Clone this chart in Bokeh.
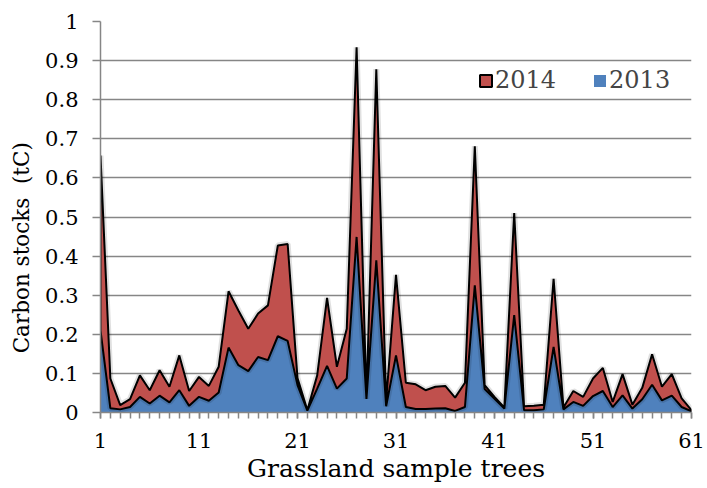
import numpy as np
from bokeh.plotting import figure
from bokeh.models import FixedTicker, Legend, LegendItem, Range1d
from bokeh.embed import file_html
from bokeh.resources import INLINE

samples = list(range(1, 62))
carbon_2013 = [0.210, 0.011, 0.008, 0.014, 0.040, 0.023, 0.043, 0.026, 0.057, 0.017,
               0.040, 0.030, 0.051, 0.166, 0.121, 0.106, 0.142, 0.134, 0.195, 0.183,
               0.070, 0.005, 0.061, 0.119, 0.061, 0.087, 0.449, 0.035, 0.389, 0.016,
               0.146, 0.014, 0.009, 0.009, 0.010, 0.011, 0.004, 0.014, 0.325, 0.060,
               0.035, 0.010, 0.249, 0.006, 0.006, 0.008, 0.168, 0.008, 0.027, 0.017,
               0.042, 0.055, 0.014, 0.044, 0.010, 0.034, 0.071, 0.031, 0.043, 0.014,
               0.003]
carbon_2014 = [0.447, 0.076, 0.011, 0.020, 0.055, 0.034, 0.065, 0.040, 0.089, 0.038,
               0.051, 0.038, 0.066, 0.144, 0.140, 0.108, 0.111, 0.140, 0.232, 0.248,
               0.018, 0.001, 0.034, 0.174, 0.056, 0.127, 0.485, 0.001, 0.489, 0.014,
               0.206, 0.062, 0.063, 0.048, 0.056, 0.057, 0.034, 0.062, 0.356, 0.010,
               0.005, 0.003, 0.261, 0.010, 0.011, 0.012, 0.174, 0.005, 0.028, 0.023,
               0.045, 0.059, 0.013, 0.054, 0.010, 0.029, 0.078, 0.035, 0.055, 0.022,
               0.003]
y_ticks = [0, 0.1, 0.2, 0.3, 0.4, 0.5, 0.6, 0.7, 0.8, 0.9, 1]
y_tick_labels = ["0", "0.1", "0.2", "0.3", "0.4", "0.5", "0.6", "0.7", "0.8", "0.9", "1"]
x_ticks = [1, 11, 21, 31, 41, 51, 61]

RED = "#C0504D"
BLUE = "#4F81BD"
GRID = "#868686"
FONT = "DejaVu Serif"
NB = "\u00a0"

p = figure(width=707, height=488, output_backend="svg", toolbar_location=None,
           x_range=Range1d(1, 61), y_range=Range1d(0, 1),
           min_border_left=100, min_border_right=16, min_border_top=21, min_border_bottom=76)
p.outline_line_color = None
p.background_fill_color = "white"
p.border_fill_color = "white"

# stacked areas
total = (np.array(carbon_2013) + np.array(carbon_2014)).tolist()
blue = p.varea(x=samples, y1=0, y2=carbon_2013, fill_color=BLUE)
px = samples + samples[::-1]
py = total + carbon_2013[::-1]
p.patch(px, py, fill_color=None, line_color="#000000", line_alpha=0.12, line_width=6)
red = p.patch(px, py, fill_color=RED, line_color="black", line_width=2)

# axes
xa = p.xaxis[0]
xa.ticker = FixedTicker(ticks=x_ticks, minor_ticks=samples)
ya = p.yaxis[0]
ya.ticker = FixedTicker(ticks=y_ticks, minor_ticks=[])
ya.major_label_overrides = {t: l for t, l in zip(y_ticks, y_tick_labels)}
for ax in (xa, ya):
    ax.axis_line_color = GRID
    ax.axis_line_width = 1.5
    ax.major_tick_line_color = GRID
    ax.major_tick_line_width = 1.5
    ax.minor_tick_line_color = GRID
    ax.minor_tick_line_width = 1.5
    ax.major_tick_in = 0
    ax.minor_tick_in = 0
    ax.major_label_text_font = FONT
    ax.major_label_text_font_size = "21px"
    ax.major_label_text_color = "black"
    ax.axis_label_text_font = FONT
    ax.axis_label_text_font_style = "normal"
    ax.axis_label_text_color = "black"
xa.major_tick_out = 6
xa.minor_tick_out = 6
xa.major_label_standoff = 14
xa.axis_label = "Grassland sample trees"
xa.axis_label_text_font_size = "25px"
xa.axis_label_standoff = 3
ya.major_tick_out = 8
ya.minor_tick_out = 0
ya.major_label_standoff = 14
ya.axis_label = "Carbon stocks" + NB + NB + "(tC)" + NB * 9
ya.axis_label_text_font_size = "21.5px"
ya.axis_label_standoff = 8

p.xgrid.visible = False
p.ygrid.ticker = FixedTicker(ticks=y_ticks)
p.ygrid.grid_line_color = GRID
p.ygrid.grid_line_width = 1.5

legend = Legend(items=[LegendItem(label="2014", renderers=[red]),
                       LegendItem(label="2013", renderers=[blue])],
                orientation="horizontal", location=(378, 318),
                border_line_color=None, background_fill_alpha=0,
                label_text_font=FONT, label_text_font_size="24px",
                glyph_width=15, glyph_height=15, spacing=36, label_standoff=2,
                padding=0, margin=0)
p.add_layout(legend)

open("out.html", "w").write(file_html(p, INLINE))
